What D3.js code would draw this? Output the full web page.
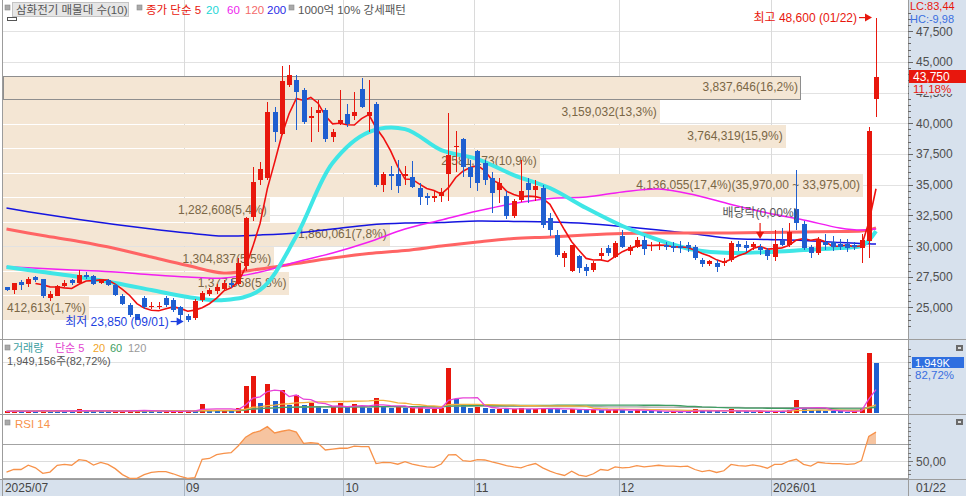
<!DOCTYPE html>
<html><head><meta charset="utf-8">
<script src="https://cdn.jsdelivr.net/npm/d3@7/dist/d3.min.js"></script>
<style>
html,body{margin:0;padding:0;background:#fff;overflow:hidden}
svg{display:block;font-family:"Liberation Sans","Noto Sans CJK KR",sans-serif}
</style></head><body>
<svg id="chart" width="966" height="496"></svg>
<script>
// ---------------- DATA ----------------
const dates = [
"2025/07/25","2025/07/28","2025/07/29","2025/07/30","2025/07/31",
"2025/08/01","2025/08/04","2025/08/05","2025/08/06","2025/08/07","2025/08/08","2025/08/11","2025/08/12","2025/08/13","2025/08/14","2025/08/18","2025/08/19","2025/08/20","2025/08/21","2025/08/22","2025/08/25","2025/08/26","2025/08/27","2025/08/28","2025/08/29",
"2025/09/01","2025/09/02","2025/09/03","2025/09/04","2025/09/05","2025/09/08","2025/09/09","2025/09/10","2025/09/11","2025/09/12","2025/09/15","2025/09/16","2025/09/17","2025/09/18","2025/09/19","2025/09/22","2025/09/23","2025/09/24","2025/09/25","2025/09/26","2025/09/29","2025/09/30",
"2025/10/01","2025/10/02","2025/10/10","2025/10/13","2025/10/14","2025/10/15","2025/10/16","2025/10/17","2025/10/20","2025/10/21","2025/10/22","2025/10/23","2025/10/24","2025/10/27","2025/10/28","2025/10/29","2025/10/30","2025/10/31",
"2025/11/03","2025/11/04","2025/11/05","2025/11/06","2025/11/07","2025/11/10","2025/11/11","2025/11/12","2025/11/13","2025/11/14","2025/11/17","2025/11/18","2025/11/19","2025/11/20","2025/11/21","2025/11/24","2025/11/25","2025/11/26","2025/11/27","2025/11/28",
"2025/12/01","2025/12/02","2025/12/03","2025/12/04","2025/12/05","2025/12/08","2025/12/09","2025/12/10","2025/12/11","2025/12/12","2025/12/15","2025/12/16","2025/12/17","2025/12/18","2025/12/19","2025/12/22","2025/12/23","2025/12/24","2025/12/26","2025/12/29","2025/12/30",
"2026/01/02","2026/01/05","2026/01/06","2026/01/07","2026/01/08","2026/01/09","2026/01/12","2026/01/13","2026/01/14","2026/01/15","2026/01/16","2026/01/19","2026/01/20","2026/01/21","2026/01/22"];

const open = [26650,26400,27050,26900,27450,27300,25750,25950,26750,27200,
26950,27600,27550,26950,27250,26850,25950,25200,24450,25800,
25100,25050,25750,25600,25000,24300,24100,25600,26100,26300,
26500,27000,26900,28400,32400,35350,35500,40950,39150,43100,
43500,42700,40400,40800,41050,38900,40050,40750,40550,42750,
40550,41600,34950,35900,35900,35700,35600,34700,34050,33900,
34050,35900,38050,38700,36400,37700,36750,35500,34550,34050,
32450,33750,35150,34550,34700,32250,30900,29000,28000,29150,
28250,28050,29200,29800,29100,30800,29600,29950,30450,30000,
30000,30100,30000,30000,30100,29900,28850,28500,28650,28600,
28850,30200,30100,29900,29950,29700,29100,30450,30100,33050,
31800,29950,29450,30350,30350,30150,30200,30100,29800,30400,
42000];
const high = [26700,27000,27200,27450,27550,27350,26300,26850,27200,27300,
28050,27900,27600,27350,27350,26900,26100,25350,24500,25900,
25400,25400,25900,25750,25100,24450,25700,26300,26600,26900,
27200,27300,29000,32400,36450,36800,41750,41350,44650,44750,
43900,42900,41350,41900,41200,39550,42700,41600,42550,43650,
43500,41700,36000,36500,37000,36500,36900,35100,34300,34500,
34700,40800,39400,38800,37000,37800,37000,36000,35500,34500,
33800,37000,35500,35400,35000,32700,31300,29600,30100,29300,
28500,28800,29800,30100,30400,31300,30100,30700,30800,30300,
30300,30300,30300,30400,30300,30100,29000,28900,28900,29000,
30400,30400,30400,30300,30200,29800,31300,31500,31900,36200,
32000,30100,30700,31000,30800,30600,30600,30300,31000,39700,
48600];
const low = [26350,26100,26400,26700,27100,25800,25500,25900,26700,26850,
26900,27300,26850,26900,26750,25950,25200,24250,23950,24900,
24850,24850,25050,24650,23950,23850,24000,25400,25900,26100,
26300,26600,26800,28000,32000,35000,35400,38500,39000,42950,
39450,39900,38500,39300,38500,38500,39850,39700,40250,41200,
39300,34800,34400,34600,34300,35000,34700,33350,33350,33600,
33600,33700,36000,35600,34700,34500,35000,32700,33500,32200,
32300,33600,33500,33700,31500,30800,29100,28300,27850,27800,
27550,27900,28900,29200,29000,29800,29300,29800,29300,29600,
29700,29700,29500,29400,29500,28900,28300,28400,27850,28400,
28700,29600,29500,29700,29300,28900,28750,30000,29900,31300,
29700,29000,29300,29650,29600,29700,29500,29700,28600,29000,
40500];
const close = [26400,26950,26800,27350,27200,25900,26100,26750,27000,26950,
27600,27450,26900,27300,26850,26000,25300,24400,24000,25000,
25150,25100,25200,24750,24400,24000,25550,26150,26400,26700,
26950,26800,28600,32250,35250,36300,40950,39300,43400,43900,
42550,40100,40550,41050,38750,39300,40300,39950,40950,41350,
40950,34950,35900,35700,34850,35850,34800,34000,33900,34050,
34400,37400,38150,36450,35600,35100,35400,34300,35100,32450,
33700,34500,34550,34900,31700,31300,29300,29400,30050,28200,
28000,28650,29450,29400,30250,29950,29950,30500,29750,30050,
30100,29900,29800,29800,29800,29000,28550,28750,28250,28800,
30250,29950,29800,30150,29700,29150,30150,30100,31150,31850,
29800,29450,30550,30100,29950,29950,29800,29900,30500,39350,
43750];
const volume = [60000,90000,70000,80000,50000,110000,90000,80000,60000,50000,
160000,90000,70000,60000,50000,80000,90000,110000,120000,90000,
60000,50000,60000,70000,80000,110000,90000,353000,130000,110000,
120000,100000,196000,1047000,1439000,392000,1137000,483000,890000,327000,
693000,314000,380000,262000,170000,220000,380000,220000,340000,280000,
180000,590000,220000,180000,220000,180000,200000,220000,160000,170000,
180000,1752000,536000,314000,183000,244000,190000,150000,170000,140000,
160000,190000,150000,160000,200000,170000,150000,120000,160000,130000,
110000,130000,100000,120000,150000,130000,90000,110000,80000,70000,
60000,50000,60000,55000,50000,145000,90000,70000,60000,50000,
150000,70000,60000,50000,70000,60000,90000,70000,120000,510000,
180000,120000,110000,80000,70000,60000,50000,70000,170000,2356370,
1949156];
const rsi14 = [37,40,40,45,42,35.5,37,45,46,45,
51.5,50.5,45.3,48.4,46,41,34,29.6,29.6,34,
36.5,37.4,37.4,35,32,29.6,30.5,52,53,57.5,
59,59.8,68,78,83,85.5,90.4,83,85,86.5,
84,70.8,71.5,70.8,63,64,65,65,67.6,67,
66.8,47,48.4,48,46.2,49.2,46.3,44.5,43,42.6,
46.5,57.1,57.5,50.4,49.5,51.6,51.2,49,47,44.5,
43,42,45,47,42,38,35,33,38,33.5,
32,35,40,39,43,42,42.5,44.5,43,44,
45,44,44,43.5,44,40,37.5,39,36.5,38.5,
46,44.5,44,45.5,44,41.5,46,46,50,52,
46,44,48.5,47.5,47,47,46,46.5,50.5,79,84];
// moving averages at sample candles
const maIdx  = [0,5,10,15,20,25,30,35,40,45,50,55,60,65,70,75,80,85,90,95,100,105,110,115,118,119,120];
const ma20  = [28290,27880,27480,26990,26420,25850,25600,26420,30810,36760,39280,39520,37810,37080,35780,34720,33090,31630,30490,29670,29430,29510,29670,29840,30000,30460,31220];
const ma60  = [28315,28160,28020,27880,27660,27480,27400,27880,28700,29430,30330,31380,32120,32850,33460,33870,33990,34400,34640,34150,33380,32690,32120,31470,31300,31350,31380];
const ma120 = [31380,30850,30370,29800,29100,28410,27800,28130,28580,29020,29390,29630,30000,30330,30610,30730,30900,31020,31060,31060,31060,31100,31140,31180,31220,31300,31470];
const ma200 = [33090,32600,32160,31750,31380,31060,30810,30900,31060,31380,31710,31870,31910,32040,32000,31950,31830,31590,31300,30980,30610,30530,30450,30280,30200,30180,30160];
// 매물대 (volume profile), bottom to top
const bandLow = 24000, bandStep = 1995;
const bandVolume = [412613,1377558,1304837,1860061,1282608,4136055,2581173,3764319,3159032,3837646];
const priceTicks = [25000,27500,30000,32500,35000,37500,40000,42500,45000,47500];
const exDivDate = "2025/12/29";

// ---------------- SETUP ----------------
const W=966,H=496,L=3,R=908,TOP=1,PB=339,VT=340,VB=414,RT=415,RB=479;
const RED="#e8170d", BLUE="#1f5fd0", AXBG="#d7e1ed", TXT="#4e4e4e";
const fmt = d3.format(",");
const dec = (v,n)=>v.toFixed(n).replace(".",",");
const N = close.length;
const svg = d3.select("#chart");
const x = d3.scaleLinear().domain([0,N-1]).range([6.5,876]);
const step = x(1)-x(0);
const yP = d3.scaleLinear().domain([25000,47500]).range([307.4,31.1]);
const yV = d3.scaleLinear().domain([0,2000000]).range([413,362]);
const yR = d3.scaleLinear().domain([30,70]).range([478,444]);
const cx = i => Math.round(x(i));

const defs = svg.append("defs");
defs.append("clipPath").attr("id","cp").append("rect").attr("x",L).attr("y",TOP).attr("width",R-L).attr("height",PB-TOP);
defs.append("clipPath").attr("id","cv").append("rect").attr("x",L).attr("y",VT).attr("width",R-L).attr("height",VB-VT);
defs.append("clipPath").attr("id","cr").append("rect").attr("x",L).attr("y",RT).attr("width",R-L).attr("height",RB-RT);
defs.append("clipPath").attr("id","cr70").append("rect").attr("x",L).attr("y",RT).attr("width",R-L).attr("height",yR(70)-RT);

svg.append("rect").attr("width",W).attr("height",H).attr("fill","#fff");
svg.append("rect").attr("x",R).attr("y",0).attr("width",W-R).attr("height",H).attr("fill",AXBG);
svg.append("rect").attr("x",0).attr("y",RB+1).attr("width",W).attr("height",H-RB-1).attr("fill",AXBG);

// month grid
const monthStarts=[]; dates.forEach((d,i)=>{ if(i===0||d.slice(0,7)!==dates[i-1].slice(0,7)) monthStarts.push(i); });
const shownMonths=[]; let lastGX=-999, lastYear=null;
monthStarts.forEach(i=>{ const gx=x(i)-step/2; if(gx-lastGX>40){ const yr=dates[i].slice(0,4);
  shownMonths.push({i,gx,label:(lastYear===null||yr!==lastYear)?dates[i].slice(0,7):dates[i].slice(5,7)}); lastGX=gx; lastYear=yr; }});

const grid = svg.append("g").attr("shape-rendering","crispEdges");
priceTicks.forEach(p=>grid.append("line").attr("x1",L).attr("x2",R).attr("y1",Math.round(yP(p))+0.5).attr("y2",Math.round(yP(p))+0.5).attr("stroke","#e2e2e2"));
grid.append("line").attr("x1",L).attr("x2",R).attr("y1",Math.round(yV(2000000))+0.5).attr("y2",Math.round(yV(2000000))+0.5).attr("stroke","#e2e2e2");
shownMonths.forEach(m=>{ if(m.i===0) return; const gx=Math.round(m.gx)+0.5;
  grid.append("line").attr("x1",gx).attr("x2",gx).attr("y1",0).attr("y2",RB).attr("stroke","#dadada");
  grid.append("line").attr("x1",gx).attr("x2",gx).attr("y1",RB).attr("y2",H).attr("stroke","#a8b4c2");
});

// ---------------- PRICE PANEL ----------------
const pg = svg.append("g").attr("clip-path","url(#cp)");
const bandTotal = d3.sum(bandVolume), bandMax = d3.max(bandVolume);
const bw = d3.scaleLinear().domain([0,bandMax]).range([0,860]);
const lastClose = close[N-1];
const bandG = pg.append("g");
bandVolume.forEach((v,k)=>{
  const lo=bandLow+k*bandStep, hi=lo+bandStep;
  const y0=Math.round(yP(hi)), y1=Math.round(yP(lo));
  const isCur = lastClose>=lo && lastClose<hi;
  bandG.append("rect").attr("x",L).attr("y",y0+1).attr("width",bw(v)).attr("height",y1-y0-1)
    .attr("fill","#f4e6d4").attr("stroke",isCur?"#8e8e8e":"none").attr("shape-rendering","crispEdges");
});
bandVolume.forEach((v,k)=>{
  const lo=bandLow+k*bandStep, hi=lo+bandStep;
  let t = fmt(v)+"("+dec(v/bandTotal*100,1)+"%)";
  if(v===bandMax) t += "("+fmt(hi)+",00 ~ "+fmt(lo)+",00)";
  bandG.append("text").attr("x",L+bw(v)-3).attr("y",(yP(hi)+yP(lo))/2+4.5).attr("text-anchor","end")
    .attr("font-size",12).attr("fill","#7a6646").text(t);
});

// moving averages
const maLine = (vals,color,w)=>{
  const pts = maIdx.map((i,k)=>({i,v:vals[k]}));
  pg.append("path").attr("d",d3.line().x(d=>x(d.i)).y(d=>yP(d.v)).curve(d3.curveCatmullRom.alpha(0.5))(pts))
    .attr("fill","none").attr("stroke",color).attr("stroke-width",w);
};
maLine(ma200,"#1515e0",1.5);
maLine(ma120,"#ff6464",3);
maLine(ma60,"#f21ef2",1.5);
maLine(ma20,"#3fe6e6",4);
const ma5 = close.map((c,i)=> i<4?null:d3.mean(close.slice(i-4,i+1)));
pg.append("path").attr("d",d3.line().defined(d=>d!=null).x((d,i)=>x(i)).y(d=>yP(d))(ma5))
  .attr("fill","none").attr("stroke","#f01010").attr("stroke-width",1.6);

// candles
const cg = pg.append("g").attr("shape-rendering","crispEdges");
close.forEach((c,i)=>{
  const o=open[i], col = c>=o?RED:BLUE, X=cx(i);
  cg.append("line").attr("x1",X+0.5).attr("x2",X+0.5).attr("y1",yP(high[i])).attr("y2",yP(low[i])).attr("stroke",col);
  const yt=Math.round(yP(Math.max(o,c))), yb=Math.round(yP(Math.min(o,c)));
  cg.append("rect").attr("x",X-2).attr("y",yt).attr("width",5).attr("height",Math.max(1,yb-yt)).attr("fill",col);
});

// annotations
const iMax = high.indexOf(d3.max(high)), iMin = low.indexOf(d3.min(low));
function arrowH(x1,x2,y,col){
  pg.append("line").attr("x1",x1).attr("x2",x2-5).attr("y1",y).attr("y2",y).attr("stroke",col).attr("stroke-width",1.2);
  pg.append("path").attr("d",`M${x2-7},${y-4}L${x2},${y}L${x2-7},${y+4}Z`).attr("fill",col);
}
const hy=yP(high[iMax]);
pg.append("text").attr("x",x(iMax)-19).attr("y",hy+4.5).attr("text-anchor","end").attr("font-size",12).attr("fill",RED)
  .text(`최고 ${fmt(high[iMax])} (${dates[iMax].slice(5)})`);
arrowH(x(iMax)-17,x(iMax)-4,hy,RED);
const ly=yP(low[iMin]);
pg.append("text").attr("x",x(iMin)-19).attr("y",ly+4.5).attr("text-anchor","end").attr("font-size",12).attr("fill","#1c3fe0")
  .text(`최저 ${fmt(low[iMin])} (${dates[iMin].slice(5)})`);
arrowH(x(iMin)-17,x(iMin)-4,ly,"#1c3fe0");
const iEx = dates.indexOf(exDivDate);
pg.append("text").attr("x",x(iEx)).attr("y",217).attr("text-anchor","middle").attr("font-size",12).attr("fill","#555").text("배당락(0,00%)");
pg.append("line").attr("x1",x(iEx)).attr("x2",x(iEx)).attr("y1",223).attr("y2",233).attr("stroke",RED).attr("stroke-width",1.2);
pg.append("path").attr("d",`M${x(iEx)-4},${232}L${x(iEx)},${239}L${x(iEx)+4},${232}Z`).attr("fill",RED);

// ---------------- VOLUME PANEL ----------------
const vg = svg.append("g").attr("clip-path","url(#cv)");
const vb = vg.append("g").attr("shape-rendering","crispEdges");
volume.forEach((v,i)=>{
  const col = (i===0 || v>=volume[i-1]) ? RED : BLUE;
  const yt = Math.round(yV(v));
  vb.append("rect").attr("x",cx(i)-2).attr("y",yt).attr("width",5).attr("height",Math.max(1,413-yt)).attr("fill",col);
});
const sma = (arr,n)=>arr.map((_,i)=>d3.mean(arr.slice(Math.max(0,i-n+1),i+1)));
[[120,"#a6a6a6"],[60,"#3f9e63"],[20,"#f4b13c"],[5,"#e744d8"]].forEach(([n,col])=>{
  vg.append("path").attr("d",d3.line().x((d,i)=>x(i)).y(d=>yV(d))(sma(volume,n))).attr("fill","none").attr("stroke",col).attr("stroke-width",1.3);
});

// ---------------- RSI PANEL ----------------
const rg = svg.append("g").attr("clip-path","url(#cr)");
[[70,"#a3a3a3"],[50,"#dcdcdc"],[30,"#a3a3a3"]].forEach(([v,c])=>{
  rg.append("line").attr("x1",L).attr("x2",R).attr("y1",Math.round(yR(v))+0.5).attr("y2",Math.round(yR(v))+0.5).attr("stroke",c).attr("shape-rendering","crispEdges");
});
rg.append("path").attr("clip-path","url(#cr70)")
  .attr("d",d3.area().x((d,i)=>x(i)).y0(yR(70)).y1(d=>yR(d))(rsi14)).attr("fill","#f6c4a0");
rg.append("path").attr("d",d3.line().x((d,i)=>x(i)).y(d=>yR(d))(rsi14)).attr("fill","none").attr("stroke","#f7924a").attr("stroke-width",1.3);

// ---------------- FRAMES ----------------
const fr = svg.append("g").attr("stroke","#9c9c9c").attr("shape-rendering","crispEdges");
[PB,VB,RB].forEach(y=>fr.append("line").attr("x1",0).attr("x2",W).attr("y1",y+0.5).attr("y2",y+0.5));
fr.append("line").attr("x1",2.5).attr("x2",2.5).attr("y1",0).attr("y2",H);
fr.append("line").attr("x1",R+0.5).attr("x2",R+0.5).attr("y1",0).attr("y2",H);

// ---------------- RIGHT AXIS ----------------
const ax = svg.append("g").attr("font-size",12);
for(let p=23500;p<=49000;p+=500){
  const y=Math.round(yP(p))+0.5; if(y<4||y>PB-2) continue;
  const major = p%2500===0;
  ax.append("line").attr("x1",R).attr("x2",R+(major?5:3)).attr("y1",y).attr("y2",y).attr("stroke","#666").attr("shape-rendering","crispEdges");
}
const cy=yP(lastClose);
priceTicks.forEach(p=>ax.append("text").attr("x",R+8).attr("y",yP(p)+4.5).attr("fill",TXT).text(fmt(p)));
const minLow=d3.min(low), maxHigh=d3.max(high);
ax.append("text").attr("x",R+2).attr("y",10).attr("font-size",11).attr("fill",RED).text("LC:"+dec((lastClose-minLow)/minLow*100,2));
ax.append("text").attr("x",R+2).attr("y",22.5).attr("font-size",11).attr("fill","#3a6fe0").text("HC:"+dec((lastClose-maxHigh)/maxHigh*100,2));
ax.append("rect").attr("x",R+1).attr("y",Math.round(cy)-7).attr("width",W-R-1).attr("height",13).attr("fill",RED);
ax.append("text").attr("x",R+5).attr("y",cy+3.5).attr("fill","#fff").text(fmt(lastClose));
// change rate: its backing covers the upper part of the next tick label, as in the original
ax.append("rect").attr("x",R+1).attr("y",Math.round(cy)+6).attr("width",W-R-1).attr("height",11).attr("fill",AXBG);
ax.append("text").attr("x",R+5).attr("y",cy+15.5).attr("font-size",11.5).attr("fill",RED).text(dec((lastClose-close[N-2])/close[N-2]*100,2)+"%");
// volume axis
for(let v=250000;v<2700000;v+=250000){ const y=Math.round(yV(v))+0.5; if(y<VT+3) continue;
  ax.append("line").attr("x1",R).attr("x2",R+3).attr("y1",y).attr("y2",y).attr("stroke","#777").attr("shape-rendering","crispEdges"); }
const lv=volume[N-1], vy=yV(lv);
ax.append("rect").attr("x",R+4).attr("y",Math.round(vy)-6).attr("width",52).attr("height",11).attr("fill","#2f6fe0");
ax.append("text").attr("x",R+7).attr("y",vy+3.5).attr("font-size",11).attr("fill","#fff").text(fmt(Math.round(lv/1000))+"K");
ax.append("text").attr("x",R+7).attr("y",vy+16).attr("font-size",11.5).attr("fill","#3a6fe0").text(dec(lv/volume[N-2]*100,2)+"%");
// rsi axis
for(let v=35;v<=95;v+=5){ const y=Math.round(yR(v))+0.5; if(y<RT+3) continue;
  ax.append("line").attr("x1",R).attr("x2",R+(v===50?5:3)).attr("y1",y).attr("y2",y).attr("stroke","#777").attr("shape-rendering","crispEdges"); }
ax.append("text").attr("x",R+8).attr("y",yR(50)+4.5).attr("fill",TXT).text(dec(50,2));
// panel icons
[VT+5,RT+4].forEach(y=>{ ax.append("rect").attr("x",956).attr("y",y).attr("width",7).attr("height",6).attr("fill","#6a6a6a");
  ax.append("rect").attr("x",958).attr("y",y+2).attr("width",3).attr("height",2).attr("fill","#ddd"); });

// ---------------- DATE AXIS ----------------
shownMonths.forEach(m=>ax.append("text").attr("x",Math.max(3,m.gx+2)).attr("y",492).attr("fill","#454545").text(m.label));
ax.append("text").attr("x",R+8).attr("y",492).attr("fill","#454545").text(dates[N-1].slice(5));

// ---------------- LEGENDS ----------------
const lg = svg.append("g").attr("font-size",11.5);
const sq=(xx,yy)=>lg.append("rect").attr("x",xx).attr("y",yy).attr("width",5).attr("height",5).attr("fill","#a9a9a9").attr("stroke","#8a8a8a").attr("stroke-width",0.6);
sq(5,5);
lg.append("rect").attr("x",12.5).attr("y",2.5).attr("width",116).attr("height",14).attr("fill","#e6e6e6").attr("stroke","#c4c4c4");
lg.append("text").attr("x",16).attr("y",13.5).attr("fill","#555").text("삼화전기 매물대 수(10)");
sq(137,5);
const leg1=[["종가 단순 5",RED,146],["20","#22d6d6",206],["60","#ee22ee",227],["120","#f46a6a",245],["200","#2a2ae6",267]];
leg1.forEach(([t,c,xx])=>lg.append("text").attr("x",xx).attr("y",13.5).attr("fill",c).text(t));
sq(289,5);
lg.append("text").attr("x",298).attr("y",13.5).attr("fill","#555").text("1000억 10% 강세패턴");
lg.append("rect").attr("x",7.5).attr("y",17.5).attr("width",9).attr("height",3).attr("fill","#fff").attr("stroke","#555");

sq(5,VT+5);
[["거래량","#3b9ea0",13],["단순 5","#e244cf",55],["20","#f0a52a",93],["60","#3f9e63",110],["120","#9a9a9a",128]]
  .forEach(([t,c,xx])=>lg.append("text").attr("x",xx).attr("y",VT+11.5).attr("font-size",11).attr("fill",c).text(t));
lg.append("text").attr("x",7).attr("y",VT+25).attr("font-size",11).attr("fill","#555").text(fmt(lv)+"주("+dec(lv/volume[N-2]*100,2)+"%)");

sq(5,RT+5);
lg.append("text").attr("x",15).attr("y",RT+13).attr("fill","#f7924a").text("RSI 14");
</script></body></html>
